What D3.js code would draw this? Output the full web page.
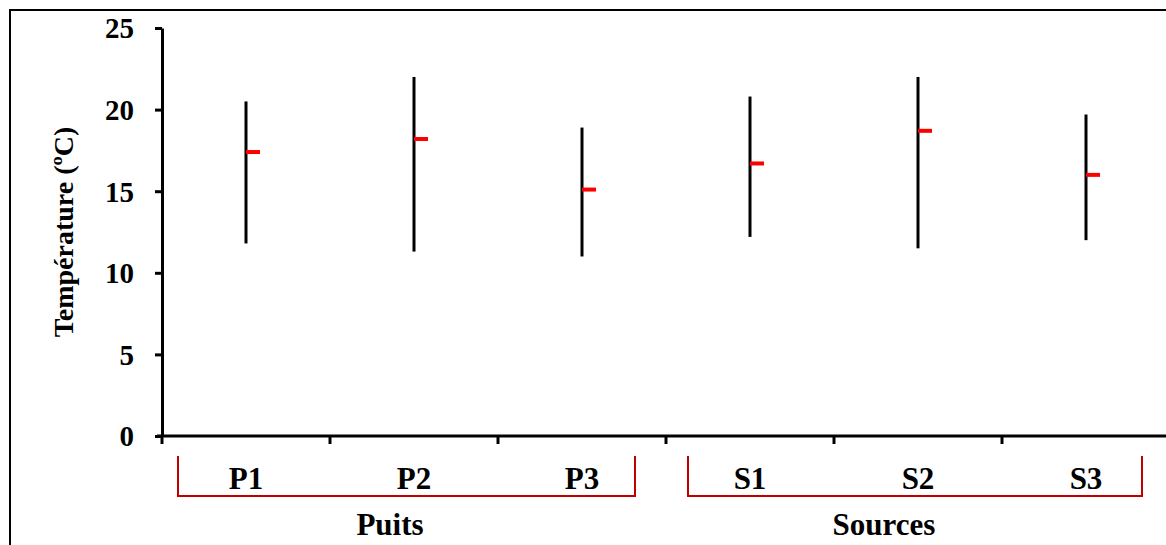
<!DOCTYPE html>
<html>
<head>
<meta charset="utf-8">
<script src="https://cdn.jsdelivr.net/npm/d3@7"></script>
<style>
  body { margin: 0; background: #fff; }
  text { font-family: "Liberation Serif", "Times New Roman", serif; font-weight: bold; }
</style>
</head>
<body>
<div id="chart"></div>
<script>
// data
var categories = ['P1', 'P2', 'P3', 'S1', 'S2', 'S3'];
var groups = ['Puits', 'Sources'];
var groupOf = ['Puits', 'Puits', 'Puits', 'Sources', 'Sources', 'Sources'];
var maxValues = [20.5, 22.0, 18.9, 20.8, 22.0, 19.7];
var minValues = [11.8, 11.3, 11.0, 12.2, 11.5, 12.0];
var meanValues = [17.4, 18.2, 15.1, 16.7, 18.7, 16.0];
var yTicks = [0, 5, 10, 15, 20, 25];

var W = 1166, H = 545;
var margin = {top: 28, left: 162, bottom: 109};
var plotBottom = H - margin.bottom;

var svg = d3.select('#chart').append('svg')
    .attr('width', W)
    .attr('height', H);

// outer frame (only top and left edges are inside the picture)
svg.append('rect')
    .attr('x', 10).attr('y', 10)
    .attr('width', W + 20).attr('height', H + 20)
    .attr('fill', 'none')
    .attr('stroke', '#000')
    .attr('stroke-width', 2);

// scales
var x = d3.scaleBand().domain(categories).range([margin.left, margin.left + 168 * categories.length]);
var y = d3.scaleLinear().domain([0, 25]).range([plotBottom, margin.top]);

// y axis
var yAxis = svg.append('g')
    .attr('transform', 'translate(' + margin.left + ',0)')
    .call(d3.axisLeft(y).tickValues(yTicks).tickSize(7).tickSizeOuter(0).tickPadding(21));
yAxis.select('.domain').attr('stroke-width', 3);
yAxis.selectAll('.tick line').attr('stroke-width', 3);
yAxis.selectAll('.tick text')
    .style('font-size', '29px')
    .attr('fill', '#000')
    .attr('dy', '0.34em');

// x axis line and ticks at the category boundaries
svg.append('line')
    .attr('x1', margin.left - 5).attr('x2', W)
    .attr('y1', plotBottom).attr('y2', plotBottom)
    .attr('stroke', '#000').attr('stroke-width', 3);

svg.selectAll('.xtick')
    .data(categories)
    .enter().append('line')
    .attr('class', 'xtick')
    .attr('x1', function (d) { return x(d); })
    .attr('x2', function (d) { return x(d); })
    .attr('y1', plotBottom).attr('y2', plotBottom + 8)
    .attr('stroke', '#000').attr('stroke-width', 3);

// min-max lines
svg.selectAll('.range')
    .data(categories)
    .enter().append('line')
    .attr('class', 'range')
    .attr('x1', function (d) { return x(d) + x.bandwidth() / 2; })
    .attr('x2', function (d) { return x(d) + x.bandwidth() / 2; })
    .attr('y1', function (d, i) { return y(maxValues[i]); })
    .attr('y2', function (d, i) { return y(minValues[i]); })
    .attr('stroke', '#000')
    .attr('stroke-width', 3);

// mean markers
svg.selectAll('.mean')
    .data(categories)
    .enter().append('line')
    .attr('class', 'mean')
    .attr('x1', function (d) { return x(d) + x.bandwidth() / 2; })
    .attr('x2', function (d) { return x(d) + x.bandwidth() / 2 + 14; })
    .attr('y1', function (d, i) { return y(meanValues[i]); })
    .attr('y2', function (d, i) { return y(meanValues[i]); })
    .attr('stroke', '#ff0000')
    .attr('stroke-width', 4);

// category labels
svg.selectAll('.cat')
    .data(categories)
    .enter().append('text')
    .attr('class', 'cat')
    .attr('x', function (d) { return x(d) + x.bandwidth() / 2; })
    .attr('y', plotBottom + 53)
    .attr('text-anchor', 'middle')
    .style('font-size', '31px')
    .text(function (d) { return d; });

// group brackets
var bracketPad = {Puits: [16, 31], Sources: [22, 28]};
var labelShift = {Puits: -24, Sources: -34};
groups.forEach(function (g) {
    var members = categories.filter(function (c, i) { return groupOf[i] === g; });
    var x0 = x(members[0]) + bracketPad[g][0];
    var x1 = x(members[members.length - 1]) + x.bandwidth() - bracketPad[g][1];
    var top = plotBottom + 20, bot = plotBottom + 60;
    svg.append('path')
        .attr('d', 'M' + x0 + ',' + top + 'V' + bot + 'H' + x1 + 'V' + top)
        .attr('fill', 'none')
        .attr('stroke', '#c00000')
        .attr('stroke-width', 2);
    var mid = (x(members[0]) + x(members[members.length - 1]) + x.bandwidth()) / 2;
    svg.append('text')
        .attr('x', mid + labelShift[g])
        .attr('y', plotBottom + 99)
        .attr('text-anchor', 'middle')
        .style('font-size', '31px')
        .text(g);
});

// y axis title
svg.append('text')
    .attr('transform', 'translate(73,' + ((margin.top + plotBottom) / 2) + ') rotate(-90)')
    .attr('text-anchor', 'middle')
    .style('font-size', '28px')
    .text('Température (ºC)');
</script>
</body>
</html>
